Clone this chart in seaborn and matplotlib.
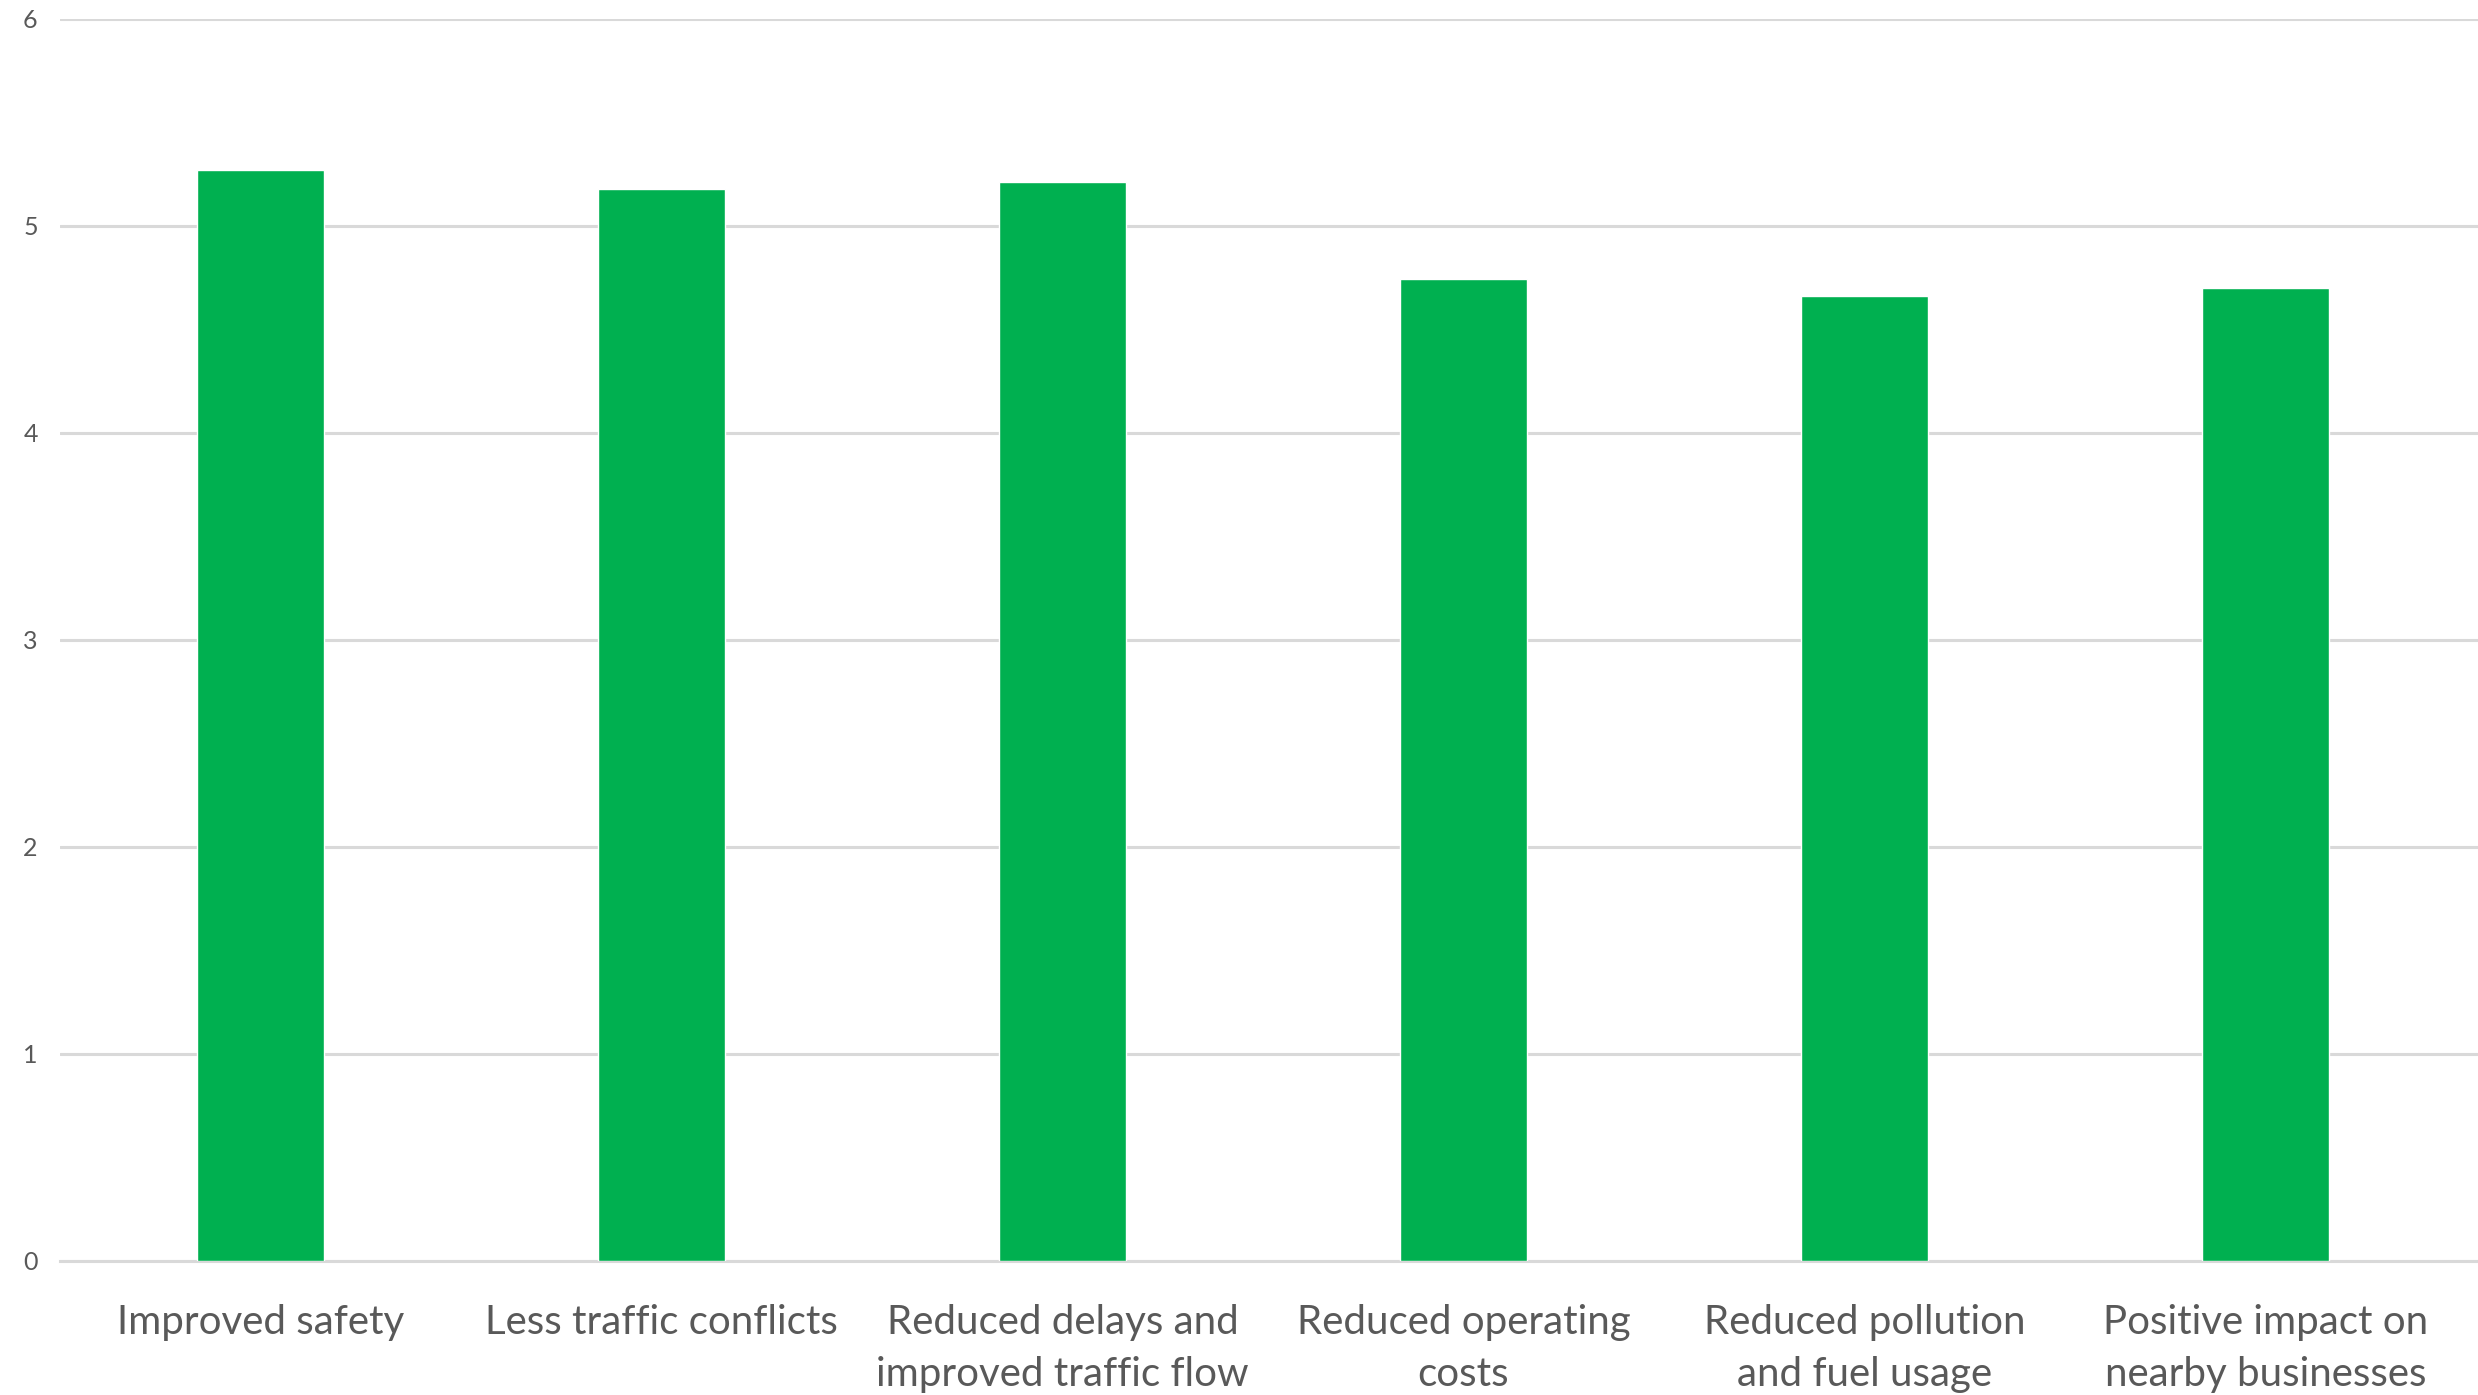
import pandas as pd
import matplotlib.pyplot as plt
import seaborn as sns

categories = ["Improved safety", "Less traffic conflicts",
              "Reduced delays and\nimproved traffic flow", "Reduced operating\ncosts",
              "Reduced pollution\nand fuel usage", "Positive impact on\nnearby businesses"]
scores = [5.27, 5.18, 5.21, 4.745, 4.66, 4.70]
y_ticks = [0, 1, 2, 3, 4, 5, 6]

df = pd.DataFrame({"benefit": categories, "score": scores})

sns.set_theme(style="white")
plt.rcParams['font.family'] = ['Lato', 'DejaVu Sans']

fig = plt.figure(figsize=(24.78, 13.95), dpi=100)
ax = fig.add_axes([0.0242, 0.0961, 0.9758, 0.8903])

sns.barplot(ax=ax, data=df, x="benefit", y="score", color="#00B050",
            width=0.315, saturation=1, zorder=3)

ax.set_xlim(-0.5, 5.53)
ax.set_ylim(0, 6)
ax.set_yticks(y_ticks)
ax.yaxis.grid(True, color="#d9d9d9", linewidth=2.2, zorder=0)
ax.set_axisbelow(True)
ax.set(xlabel="", ylabel="")

for side in ["top", "right", "left"]:
    ax.spines[side].set_visible(False)
ax.spines["bottom"].set_color("#d9d9d9")
ax.spines["bottom"].set_linewidth(2.2)

ax.tick_params(axis="x", length=0, pad=31, labelsize=29, labelcolor="#595959")
ax.tick_params(axis="y", length=0, pad=16, labelsize=18, labelcolor="#595959")
for lbl in ax.get_xticklabels():
    lbl.set_linespacing(1.5)

fig.savefig("out.png", dpi=100)
